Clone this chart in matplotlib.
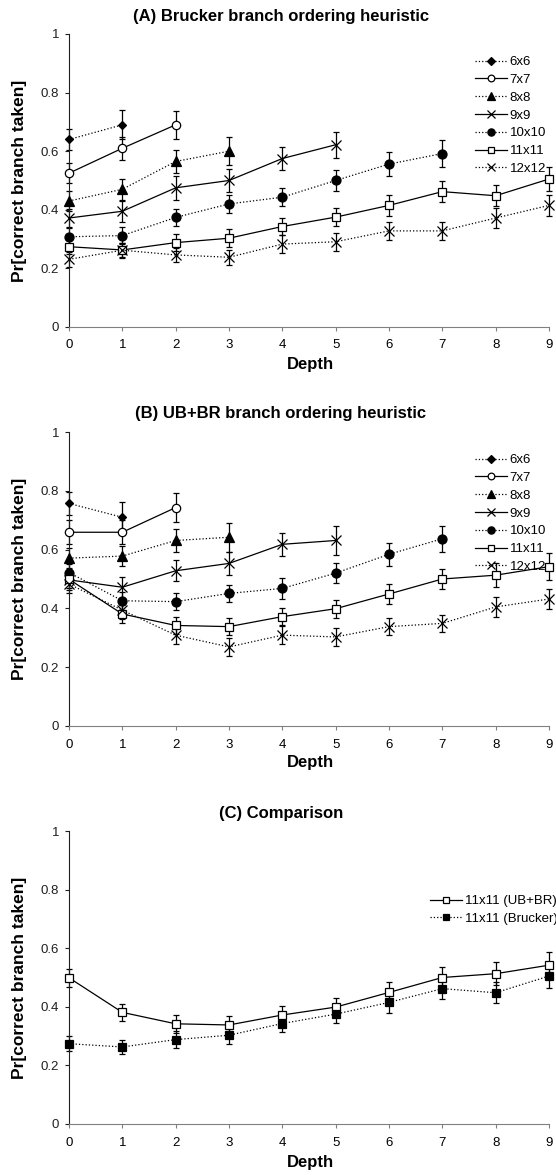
import matplotlib
matplotlib.use('Agg')
import matplotlib.pyplot as plt
import numpy as np

plt.rcParams['font.family'] = ['Liberation Sans', 'DejaVu Sans']

# Datos
depth = [0, 1, 2, 3, 4, 5, 6, 7, 8, 9]
sizes = ['6x6', '7x7', '8x8', '9x9', '10x10', '11x11', '12x12']

# (A) Brucker
a_vals = {
    '6x6': [0.64, 0.69],
    '7x7': [0.525, 0.61, 0.69],
    '8x8': [0.43, 0.47, 0.565, 0.60],
    '9x9': [0.372, 0.395, 0.475, 0.50, 0.575, 0.622],
    '10x10': [0.308, 0.312, 0.374, 0.42, 0.443, 0.50, 0.556, 0.592],
    '11x11': [0.274, 0.263, 0.288, 0.303, 0.343, 0.375, 0.415, 0.462, 0.448, 0.505],
    '12x12': [0.231, 0.262, 0.246, 0.238, 0.283, 0.291, 0.328, 0.328, 0.372, 0.415],
}
a_err = {
    '6x6': [0.035, 0.05],
    '7x7': [0.035, 0.04, 0.048],
    '8x8': [0.035, 0.035, 0.04, 0.047],
    '9x9': [0.03, 0.035, 0.04, 0.04, 0.04, 0.045],
    '10x10': [0.03, 0.03, 0.03, 0.03, 0.03, 0.035, 0.04, 0.045],
    '11x11': [0.025, 0.025, 0.03, 0.03, 0.03, 0.03, 0.035, 0.035, 0.035, 0.04],
    '12x12': [0.025, 0.025, 0.025, 0.025, 0.03, 0.03, 0.03, 0.03, 0.035, 0.035],
}

# (B) UB+BR
b_vals = {
    '6x6': [0.757, 0.71],
    '7x7': [0.659, 0.659, 0.743],
    '8x8': [0.571, 0.578, 0.631, 0.642],
    '9x9': [0.497, 0.472, 0.528, 0.553, 0.618, 0.631],
    '10x10': [0.522, 0.426, 0.423, 0.451, 0.468, 0.52, 0.584, 0.637],
    '11x11': [0.499, 0.381, 0.342, 0.338, 0.372, 0.399, 0.449, 0.50, 0.513, 0.542],
    '12x12': [0.483, 0.394, 0.309, 0.269, 0.309, 0.303, 0.338, 0.349, 0.405, 0.432],
}
b_err = {
    '6x6': [0.04, 0.053],
    '7x7': [0.04, 0.04, 0.049],
    '8x8': [0.035, 0.035, 0.04, 0.05],
    '9x9': [0.035, 0.035, 0.035, 0.04, 0.04, 0.05],
    '10x10': [0.03, 0.03, 0.03, 0.03, 0.035, 0.035, 0.04, 0.044],
    '11x11': [0.03, 0.03, 0.03, 0.03, 0.03, 0.03, 0.035, 0.035, 0.04, 0.045],
    '12x12': [0.03, 0.03, 0.03, 0.03, 0.03, 0.03, 0.03, 0.03, 0.033, 0.035],
}

estilos = {
    '6x6': dict(marker='D', ls=':', mfc='black', ms=4.5),
    '7x7': dict(marker='o', ls='-', mfc='white', ms=6),
    '8x8': dict(marker='^', ls=':', mfc='black', ms=6.5),
    '9x9': dict(marker='x', ls='-', mfc='black', ms=6.5),
    '10x10': dict(marker='o', ls=':', mfc='black', ms=6.5),
    '11x11': dict(marker='s', ls='-', mfc='white', ms=5.5),
    '12x12': dict(marker='x', ls=':', mfc='black', ms=6.5),
}

W, H = 556, 1175
fig = plt.figure(figsize=(W / 100, H / 100), dpi=100)

AX_L, AX_R = 69, 549


def fx(px):
    return px / W


def fy(py):
    return 1 - py / H


def preparar_ejes(top, bottom, titulo, title_y, xlabel_y):
    ax = fig.add_axes([fx(AX_L), fy(bottom), fx(AX_R) - fx(AX_L), (bottom - top) / H])
    ax.set_xlim(0, 9)
    ax.set_ylim(0, 1)
    ax.set_xticks(depth)
    ax.set_yticks([0, 0.2, 0.4, 0.6, 0.8, 1])
    ax.set_yticklabels(['0', '0.2', '0.4', '0.6', '0.8', '1'])
    ax.spines['top'].set_visible(False)
    ax.spines['right'].set_visible(False)
    ax.spines['left'].set_color('#202020')
    ax.spines['bottom'].set_color('#808080')
    ax.tick_params(axis='y', direction='out', length=3, width=0.8, labelsize=9.5, pad=4, colors='#202020')
    ax.tick_params(axis='x', direction='out', length=3, width=0.8, labelsize=9.5, pad=6, color='#808080')
    fig.text(fx(281), fy(title_y), titulo, ha='center', va='center', fontsize=12, fontweight='bold')
    fig.text(fx(310), fy(xlabel_y), 'Depth', ha='center', va='center', fontsize=12, fontweight='bold')
    fig.text(fx(19.5), fy((top + bottom) / 2), 'Pr[correct branch taken]', ha='center', va='center',
             rotation=90, fontsize=12.5, fontweight='bold')
    return ax


def dibujar(ax, vals, errs, etiqueta, est):
    y = vals
    x = depth[:len(y)]
    ax.errorbar(x, y, yerr=errs, fmt='none', ecolor='black', elinewidth=0.9,
                capsize=2.5, capthick=0.9, clip_on=False, zorder=2)
    ax.plot(x, y, color='black', lw=0.9, ls=est['ls'], marker=est['marker'], ms=est['ms'],
            mfc=est['mfc'], mec='black', mew=0.9, label=etiqueta, clip_on=False, zorder=3)


def leyenda(ax, x0, y0):
    ax.legend(loc='upper left', bbox_to_anchor=(fx(x0), fy(y0)), bbox_transform=fig.transFigure,
              frameon=False, fontsize=9.5, handlelength=2.4, handletextpad=0.22,
              labelspacing=0.42, borderpad=0, borderaxespad=0, markerscale=0.8)


# Panel A
ax1 = preparar_ejes(34, 327, '(A) Brucker branch ordering heuristic', 16.5, 365)
for s in sizes:
    dibujar(ax1, a_vals[s], a_err[s], s, estilos[s])
leyenda(ax1, 475, 56)

# Panel B
ax2 = preparar_ejes(432, 726, '(B) UB+BR branch ordering heuristic', 413.5, 763)
for s in sizes:
    dibujar(ax2, b_vals[s], b_err[s], s, estilos[s])
leyenda(ax2, 475, 454)

# Panel C
ax3 = preparar_ejes(831, 1124, '(C) Comparison', 813.5, 1163)
dibujar(ax3, b_vals['11x11'], b_err['11x11'], '11x11 (UB+BR)', estilos['11x11'])
dibujar(ax3, a_vals['11x11'], a_err['11x11'], '11x11 (Brucker)',
        dict(marker='s', ls=':', mfc='black', ms=5.5))
leyenda(ax3, 430, 895)

fig.savefig('out.png', dpi=100)
